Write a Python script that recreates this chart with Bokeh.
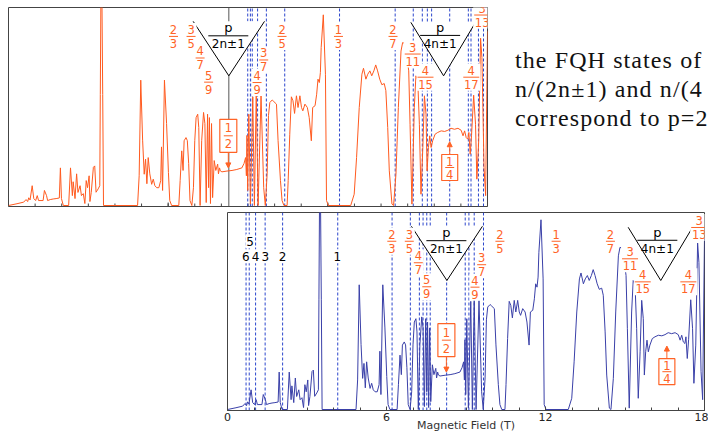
from bokeh.plotting import figure
from bokeh.models import Range1d, FixedTicker, Arrow, NormalHead, Div, Spacer
from bokeh.layouts import column, row
from bokeh.embed import file_html
from bokeh.resources import INLINE
from bokeh.core.properties import value

# ---------------- data: magnetoresistance trace ----------------
field_T = [
    0.00, 0.32, 0.57, 0.66, 0.72, 0.76, 0.81, 0.89, 0.95, 1.02,
    1.08, 1.13, 1.30, 1.35, 1.43, 1.47, 1.57, 1.68, 1.79, 1.91,
    1.95, 1.99, 2.06, 2.26, 2.33, 2.40, 2.43, 2.50, 2.56, 2.61,
    2.69, 2.74, 2.81, 2.87, 2.92, 2.97, 3.03, 3.06, 3.11, 3.19,
    3.24, 3.29, 3.37, 3.43, 3.45, 3.47, 3.51, 3.54, 3.57,
    4.85, 4.91, 4.97, 5.04, 5.10, 5.15, 5.20, 5.25, 5.31, 5.38,
    5.44, 5.50, 5.57, 5.65, 5.72, 5.75, 5.79, 5.86, 5.94, 6.01,
    6.06, 6.13,
    6.40, 6.45, 6.51, 6.56, 6.60, 6.67, 6.72, 6.77, 6.82, 6.89,
    6.95, 7.00, 7.05, 7.11, 7.15, 7.20, 7.26, 7.33, 7.38, 7.43,
    7.48, 7.52, 7.55, 7.59, 7.63, 7.67, 7.73, 7.79, 7.86, 7.89,
    7.93, 7.96, 8.02,
    8.21, 8.40, 8.58, 8.77, 8.85, 8.91, 8.94, 8.96, 8.99, 9.03,
    9.09, 9.18, 9.24, 9.31, 9.38, 9.49, 9.59, 9.65, 9.72, 9.77,
    9.82, 9.91, 9.97, 10.07, 10.13, 10.22, 10.28, 10.35,
    10.47, 10.51, 10.57, 10.63, 10.69, 10.75, 10.82, 10.88, 10.95, 11.01,
    11.06, 11.14, 11.23, 11.30, 11.38, 11.43, 11.52, 11.58, 11.63, 11.68,
    11.72, 11.75, 11.83, 11.91, 11.95, 12.02,
    12.86, 12.99, 13.08, 13.18, 13.28, 13.34, 13.43, 13.50, 13.58, 13.65,
    13.73, 13.80, 13.87, 13.95, 14.03, 14.12, 14.18, 14.25, 14.31, 14.41,
    14.47,
    14.56, 14.65, 14.75, 14.81, 14.90, 14.96, 15.04, 15.09, 15.16, 15.25,
    15.31, 15.38, 15.44, 15.50, 15.57, 15.63, 15.69, 15.73, 15.78, 15.83,
    15.88, 15.94, 16.03, 16.13, 16.26, 16.39, 16.51, 16.63, 16.76, 16.89,
    17.01, 17.08, 17.14, 17.20, 17.26, 17.30, 17.35, 17.40, 17.48, 17.55,
    17.60, 17.67, 17.74, 17.79, 17.87, 17.93, 18.00,
]
resistance = [
    0.000, 0.009, 0.017, 0.030, 0.020, 0.039, 0.028, 0.100, 0.035, 0.025,
    0.050, 0.025, 0.025, 0.076, 0.050, 0.025, 0.030, 0.033, 0.035, 0.038,
    0.190, 0.035, 0.000, 0.000, 0.190, 0.050, 0.120, 0.035, 0.160, 0.066,
    0.100, 0.050, 0.060, 0.010, 0.126, 0.090, 0.150, 0.020, 0.066, 0.193,
    0.200, 0.067, 0.084, 0.100, 0.560, 1.000, 1.060, 0.560, 0.000,
    0.000, 0.150, 0.633, 0.330, 0.158, 0.234, 0.110, 0.242, 0.160, 0.107,
    0.133, 0.100, 0.090, 0.090, 0.126, 0.296, 0.076, 0.633, 0.414, 0.167,
    0.025, 0.000,
    0.000, 0.126, 0.276, 0.177, 0.327, 0.343, 0.328, 0.212, 0.025, 0.000,
    0.090, 0.328, 0.444, 0.461, 0.394, 0.000, 0.328, 0.470, 0.414, 0.015,
    0.461, 0.090, 0.444, 0.010, 0.414, 0.040, 0.227, 0.177, 0.209, 0.160,
    0.190, 0.175, 0.170,
    0.174, 0.177, 0.182, 0.190, 0.212, 0.242, 0.150, 0.354, 0.076, 0.461,
    0.007, 0.549, 0.000, 0.562, 0.000, 0.554, 0.090, 0.000, 0.160, 0.455,
    0.520, 0.533, 0.525, 0.512, 0.328, 0.126, 0.025, 0.000,
    0.000, 0.126, 0.360, 0.549, 0.529, 0.465, 0.554, 0.495, 0.554, 0.495,
    0.478, 0.512, 0.495, 0.444, 0.327, 0.495, 0.504, 0.562, 0.638, 0.621,
    0.672, 0.798, 0.963, 0.663, 0.025, 0.000,
    0.000, 0.057, 0.242, 0.495, 0.663, 0.693, 0.638, 0.663, 0.680, 0.655,
    0.680, 0.710, 0.680, 0.638, 0.610, 0.616, 0.580, 0.394, 0.175, 0.007,
    0.000,
    0.158, 0.495, 0.780, 0.823, 0.818, 0.764, 0.680, 0.410, 0.007, 0.495,
    0.655, 0.630, 0.410, 0.057, 0.293, 0.554, 0.461, 0.175, 0.293, 0.352,
    0.293, 0.327, 0.360, 0.369, 0.377, 0.374, 0.380, 0.390, 0.385, 0.390,
    0.380, 0.352, 0.377, 0.343, 0.335, 0.369, 0.259, 0.354, 0.557, 0.410,
    0.133, 0.327, 0.845, 0.747, 0.192, 0.050, 0.880,
]

# axis ticks
major_ticks = [0, 6, 12, 18]
minor_ticks = list(range(0, 19))

# filling-factor marker lines (T)
lines_lower = [0.70, 0.82, 1.06, 1.42, 2.08, 4.16, 6.21, 6.90, 7.24, 7.38, 7.52, 7.65,
               8.27, 8.97, 9.11, 9.31, 9.66]
lines_upper = [8.99, 9.09, 9.16, 9.36, 9.69, 10.38, 12.44, 14.53, 15.21, 15.55, 15.74,
               15.90, 16.58, 17.28, 17.38, 17.66, 17.85]
half_line_upper = [8.28]

# fraction labels
frac_num = ["2", "3", "4", "5", "4", "3", "2", "1", "2", "3", "4", "4", "3"]
frac_den = ["3", "5", "7", "9", "9", "7", "5", "3", "7", "11", "15", "17", "13"]
frac_x = [6.20, 6.86, 7.20, 7.52, 9.34, 9.59, 10.28, 12.40, 14.45, 15.19, 15.67, 17.39, 17.80]
frac_y_lower = [0.854, 0.854, 0.745, 0.623, 0.621, 0.735, 0.854, 0.854, 0.854, 0.765, 0.648, 0.648, 0.924]
frac_y_upper = [0.854, 0.854, 0.745, 0.623, 0.621, 0.735, 0.854, 0.854, 0.854, 0.765, 0.648, 0.648, 0.962]

# integer filling factors (lower panel only)
int_text = ["6", "4", "3", "2", "1", "5"]
int_x = [0.69, 1.06, 1.43, 2.08, 4.14, 0.85]
int_y = [0.778, 0.778, 0.778, 0.778, 0.778, 0.854]

# p/(2n±1) and p/(4n±1) wedges
wedge_den = ["2n±1", "4n±1"]
wedge_text_x = [8.26, 16.22]
wedge_x = [[6.94, 8.28, 9.62], [15.12, 16.35, 17.55]]
wedge_y = [[0.93, 0.655, 0.93], [0.925, 0.655, 0.925]]

# boxed even-denominator states
box_num = ["1", "1"]
box_den = ["2", "4"]
box_x = [8.26, 16.58]
box_y = [0.352, 0.192]
box_h = [33, 26]
arrow_start = [0.268, 0.258]
arrow_end = [0.19, 0.322]

ORANGE = "#ff5a1f"
LABEL = "#ff6326"
BLUE = "#3a40a8"
DASH = "#2c46cc"
FRAME = "#444444"
FONT = "DejaVu Sans"


def make_panel(width, height, mbl, mbr, mbt, mbb, with_axis):
    p = figure(width=width, height=height, x_range=Range1d(0, 18), y_range=Range1d(-0.005, 1.0),
               output_backend="svg", toolbar_location=None, y_axis_location=None,
               x_axis_location="below" if with_axis else None,
               min_border_left=mbl, min_border_right=mbr, min_border_top=mbt, min_border_bottom=mbb)
    p.grid.visible = False
    p.outline_line_color = FRAME
    p.outline_line_width = 1
    if with_axis:
        ax = p.xaxis[0]
        ax.ticker = FixedTicker(ticks=major_ticks, minor_ticks=minor_ticks)
        ax.major_tick_in = 4
        ax.major_tick_out = 0
        ax.minor_tick_in = 3
        ax.minor_tick_out = 0
        ax.axis_line_color = FRAME
        ax.major_tick_line_color = FRAME
        ax.minor_tick_line_color = FRAME
        ax.major_label_text_font = FONT
        ax.major_label_text_font_size = "11px"
        ax.major_label_text_color = "#222222"
        ax.major_label_standoff = 2
        ax.axis_label = "Magnetic Field (T)"
        ax.axis_label_text_font = FONT
        ax.axis_label_text_font_size = "11px"
        ax.axis_label_text_font_style = "normal"
        ax.axis_label_text_color = "#333333"
        ax.axis_label_standoff = -5
    else:
        # tick marks only (this panel shows no tick labels)
        k = len(minor_ticks)
        p.segment(x0=minor_ticks, y0=[-0.005] * k, x1=minor_ticks, y1=[0.01] * k,
                  line_color=FRAME, line_width=1)
        j = len(major_ticks)
        p.segment(x0=major_ticks, y0=[-0.005] * j, x1=major_ticks, y1=[0.015] * j,
                  line_color=FRAME, line_width=1)
    return p


def decorate(p, lines, curve_color, with_integers, solid_lines, frac_y):
    n = len(lines)
    p.segment(x0=lines, y0=[-0.005] * n, x1=lines, y1=[1.0] * n,
              line_color=DASH, line_dash="3 2", line_width=1)
    if solid_lines:
        m = len(solid_lines)
        p.segment(x0=solid_lines, y0=[-0.005] * m, x1=solid_lines, y1=[1.0] * m,
                  line_color="#555555", line_width=1)
    p.line(field_T, resistance, line_color=curve_color, line_width=1)
    for wx, wy in zip(wedge_x, wedge_y):
        p.patch(wx, wy, fill_color="white", line_color=None)
        p.line(wx, wy, line_color="black", line_width=1)
    p.text(x=wedge_text_x, y=[0.897, 0.90], text=["p", "p"], text_font=value(FONT),
           text_font_size="13px", text_color="black", text_align="center", text_baseline="middle")
    p.text(x=wedge_text_x, y=[0.817, 0.817], text=wedge_den, text_font=value(FONT),
           text_font_size="12px", text_color="black", text_align="center", text_baseline="middle")
    p.scatter(x=wedge_text_x, y=[0.857, 0.859], marker="dash", size=40,
              line_color="black", line_width=1)
    widths = [4 + 7 * max(len(a), len(b)) for a, b in zip(frac_num, frac_den)]
    p.rect(x=frac_x, y=frac_y, width=widths, height=[27] * len(frac_x),
           width_units="screen", height_units="screen", fill_color="white", line_color=None)
    p.text(x=frac_x, y=frac_y, text=frac_num, y_offset=-7, text_font=value(FONT),
           text_font_size="11.5px", text_color=LABEL, text_align="center", text_baseline="middle")
    p.text(x=frac_x, y=frac_y, text=frac_den, y_offset=7, text_font=value(FONT),
           text_font_size="11.5px", text_color=LABEL, text_align="center", text_baseline="middle")
    p.scatter(x=frac_x, y=frac_y, marker="dash", size=[w - 2 for w in widths],
              line_color=LABEL, line_width=1)
    if with_integers:
        p.rect(x=int_x, y=int_y, width=[9] * len(int_x), height=[14] * len(int_x),
               width_units="screen", height_units="screen", fill_color="white", line_color=None)
        p.text(x=int_x, y=int_y, text=int_text, text_font=value(FONT), text_font_size="12px",
               text_color="black", text_align="center", text_baseline="middle")
    p.rect(x=box_x, y=box_y, width=[17, 16], height=box_h, width_units="screen",
           height_units="screen", fill_color="white", line_color=LABEL, line_width=1.2)
    p.text(x=box_x, y=box_y, text=box_num, y_offset=[-8, -6], text_font=value(FONT),
           text_font_size="11.5px", text_color=LABEL, text_align="center", text_baseline="middle")
    p.text(x=box_x, y=box_y, text=box_den, y_offset=[8, 7], text_font=value(FONT),
           text_font_size="11.5px", text_color=LABEL, text_align="center", text_baseline="middle")
    p.scatter(x=box_x, y=box_y, marker="dash", size=9, line_color=LABEL, line_width=1)
    for bx, s, e in zip(box_x, arrow_start, arrow_end):
        p.add_layout(Arrow(end=NormalHead(size=5, fill_color=LABEL, line_color=LABEL),
                           x_start=bx, y_start=s, x_end=bx, y_end=e,
                           line_color=LABEL, line_width=1))


# upper (orange) panel: frame x 8..487, y 7..206
top = make_panel(489, 212, 8, 2, 7, 6, False)
decorate(top, lines_upper, ORANGE, False, half_line_upper, frac_y_upper)

# lower (blue) panel: frame x 227..704, y 212..411
bottom = make_panel(485, 222, 4, 4, 0, 23, True)
decorate(bottom, lines_lower, BLUE, True, None, frac_y_lower)

note = Div(text=(
    "<div style=\"font-family:'Liberation Serif';font-size:24px;line-height:29px;"
    "letter-spacing:1.1px;padding:46px 0 0 26px;white-space:nowrap;color:#111;\">"
    "the FQH states of<br>n/(2n±1) and n/(4<br>correspond to p=2</div>"),
    width=219, height=212, margin=(0, 0, 0, 0))

layout = column(row(top, note), row(Spacer(width=223, height=222), bottom))

open("out.html", "w").write(file_html(layout, INLINE))
